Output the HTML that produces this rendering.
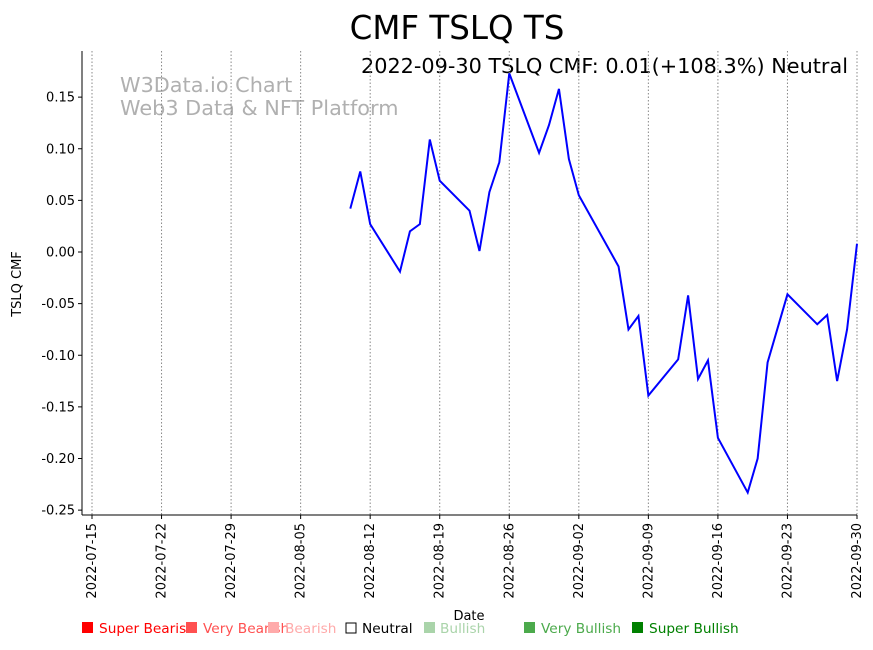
<!DOCTYPE html>
<html><head><meta charset="utf-8"><style>
body{margin:0;background:#fff;font-family:"DejaVu Sans","Liberation Sans",sans-serif;}
svg text{font-family:"DejaVu Sans","Liberation Sans",sans-serif;}
</style></head><body>
<svg id="chart" width="873" height="646" xmlns="http://www.w3.org/2000/svg">
<text x="457" y="39" font-size="32.5" text-anchor="middle">CMF TSLQ TS</text>
<text x="848" y="73" font-size="20.8" text-anchor="end">2022-09-30 TSLQ CMF: 0.01(+108.3%) Neutral</text>
<text x="120" y="92" font-size="20.8" fill="#b0b0b0">W3Data.io Chart</text>
<text x="120" y="115" font-size="20.8" fill="#b0b0b0">Web3 Data &amp; NFT Platform</text>
<g id="grid"></g><g id="axes"></g>
<polyline id="line" fill="none" stroke="#0000ff" stroke-width="2"/>
<text x="469" y="620" font-size="13" text-anchor="middle">Date</text>
<text transform="translate(21,284) rotate(-90)" font-size="13" text-anchor="middle">TSLQ CMF</text>
<g font-size="13.7">
<rect x="82" y="622" width="11" height="11" fill="#ff0000"/><text x="99" y="633" fill="#ff0000">Super Bearish</text>
<rect x="186" y="622" width="11" height="11" fill="#ff5050"/><text x="203" y="633" fill="#ff5050">Very Bearish</text>
<rect x="268" y="622" width="11" height="11" fill="#ffaaaa"/><text x="285" y="633" fill="#ffaaaa">Bearish</text>
<rect x="346" y="623" width="10" height="10" fill="none" stroke="#000"/><text x="362" y="633" fill="#000">Neutral</text>
<rect x="424" y="622" width="11" height="11" fill="#aad4aa"/><text x="440" y="633" fill="#aad4aa">Bullish</text>
<rect x="524" y="622" width="11" height="11" fill="#4caa4c"/><text x="541" y="633" fill="#4caa4c">Very Bullish</text>
<rect x="632" y="622" width="11" height="11" fill="#008000"/><text x="649" y="633" fill="#008000">Super Bullish</text>
</g>
</svg>
<script>
const dates=["2022-08-10","2022-08-11","2022-08-12","2022-08-15","2022-08-16","2022-08-17","2022-08-18","2022-08-19","2022-08-22","2022-08-23","2022-08-24","2022-08-25","2022-08-26","2022-08-29","2022-08-30","2022-08-31","2022-09-01","2022-09-02","2022-09-06","2022-09-07","2022-09-08","2022-09-09","2022-09-12","2022-09-13","2022-09-14","2022-09-15","2022-09-16","2022-09-19","2022-09-20","2022-09-21","2022-09-23","2022-09-26","2022-09-27","2022-09-28","2022-09-29","2022-09-30"];
const cmf=[0.042,0.078,0.027,-0.019,0.020,0.027,0.109,0.069,0.040,0.001,0.058,0.087,0.173,0.096,0.123,0.158,0.090,0.055,-0.014,-0.075,-0.062,-0.139,-0.104,-0.042,-0.123,-0.105,-0.180,-0.233,-0.200,-0.107,-0.041,-0.070,-0.061,-0.125,-0.075,0.008];
const xTicks=["2022-07-15","2022-07-22","2022-07-29","2022-08-05","2022-08-12","2022-08-19","2022-08-26","2022-09-02","2022-09-09","2022-09-16","2022-09-23","2022-09-30"];
const yTicks=[0.15,0.10,0.05,0.00,-0.05,-0.10,-0.15,-0.20,-0.25];
const NS="http://www.w3.org/2000/svg";
const t0=Date.parse("2022-07-15"),DAY=86400000;
const X=d=>92+(Date.parse(d)-t0)/DAY*(765/77);
const Y=v=>252-v*1032.5;
const L=82,R=857,T=51,B=515;
const grid=document.getElementById('grid'),axes=document.getElementById('axes');
function mk(tag,a,p){const e=document.createElementNS(NS,tag);for(const k in a)e.setAttribute(k,a[k]);p.appendChild(e);return e;}
xTicks.forEach(d=>{const x=X(d);
const g=mk('line',{x1:x,x2:x,y1:T,y2:B,stroke:'#888','stroke-dasharray':'1.5,2','stroke-width':1},grid);


mk('line',{x1:x,x2:x,y1:B,y2:B+4,stroke:'#000'},axes);
const t=mk('text',{transform:`translate(${x+4},${B+8}) rotate(-90)`,'font-size':13,'text-anchor':'end'},axes);t.textContent=d;

});
yTicks.forEach(v=>{const y=Y(v);
mk('line',{x1:L-4,x2:L,y1:y,y2:y,stroke:'#000'},axes);
const t=mk('text',{x:L-7,y:y+4.5,'font-size':13,'text-anchor':'end'},axes);t.textContent=v.toFixed(2);

});
const la=mk('line',{x1:L,x2:L,y1:T,y2:B,stroke:'#000'},axes);


const lb=mk('line',{x1:L,x2:R,y1:B,y2:B,stroke:'#000'},axes);


document.getElementById('line').setAttribute('points',dates.map((d,i)=>X(d)+','+Y(cmf[i])).join(' '));
</script>
</body></html>
